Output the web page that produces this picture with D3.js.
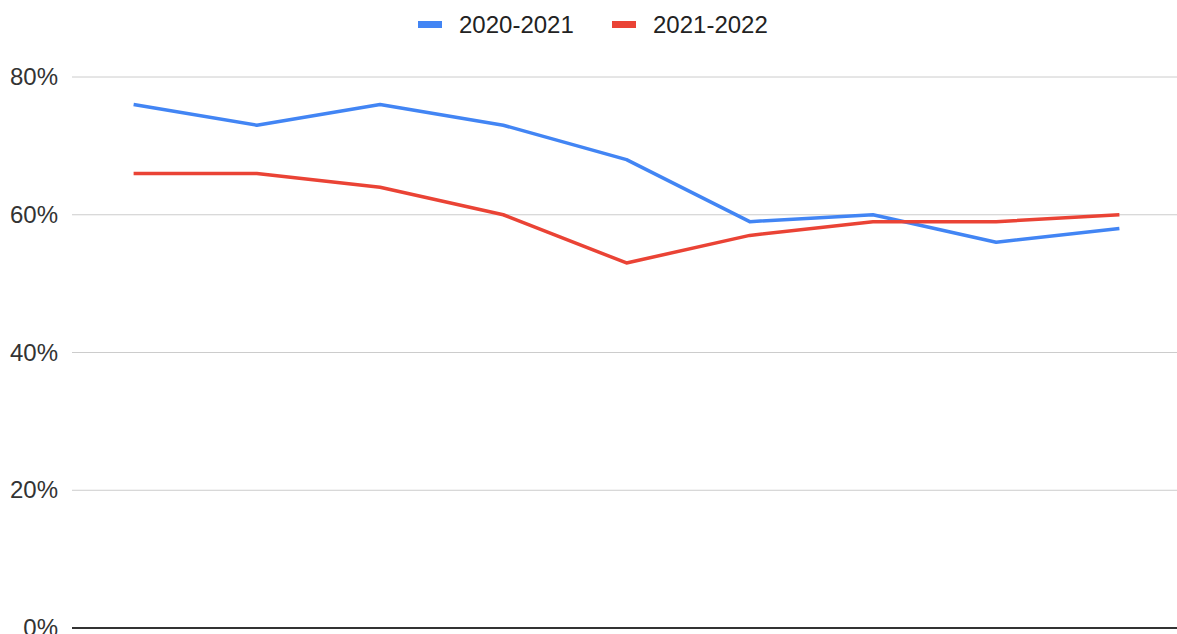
<!DOCTYPE html>
<html>
<head>
<meta charset="utf-8">
<script src="https://cdn.jsdelivr.net/npm/d3@7"></script>
<style>
  body { margin: 0; background: #fff; }
  svg { display: block; font-family: "Liberation Sans", Arial, sans-serif; }
</style>
</head>
<body>
<div id="chart"></div>
<script>
var categories = ["1", "2", "3", "4", "5", "6", "7", "8", "9"]
var series2020 = [76, 73, 76, 73, 68, 59, 60, 56, 58]
var series2021 = [66, 66, 64, 60, 53, 57, 59, 59, 60]
var yTicks = [0, 20, 40, 60, 80]
var seriesNames = ["2020-2021", "2021-2022"]
var seriesColors = ["#4285F4", "#EA4335"]

var width = 1177, height = 634

var svg = d3.select("#chart")
    .append("svg")
    .attr("width", width)
    .attr("height", height)

var x = d3.scalePoint()
    .domain(categories)
    .range([72, 1181])
    .padding(0.5)

var y = d3.scaleLinear()
    .domain([0, 80])
    .range([628, 77])

// gridlines
svg.append("g").selectAll("line")
    .data(yTicks.filter(function (d) { return d > 0 }))
    .enter()
    .append("line")
    .attr("x1", 72)
    .attr("x2", width)
    .attr("y1", function (d) { return y(d) })
    .attr("y2", function (d) { return y(d) })
    .style("stroke", "#cccccc")
    .style("stroke-width", 1)

// y axis labels
var yAxis = d3.axisLeft(y)
    .tickValues(yTicks)
    .tickSize(0)
    .tickPadding(0)
    .tickFormat(function (d) { return d + "%" })

var yAxisG = svg.append("g")
    .attr("transform", "translate(58,0)")
    .call(yAxis)
yAxisG.select(".domain").remove()
yAxisG.selectAll("text")
    .style("font-size", "24px")
    .style("fill", "#333")
    .style("font-family", "'Liberation Sans', Arial, sans-serif")

// lines
var line = d3.line()
    .x(function (d, i) { return x(categories[i]) })
    .y(function (d) { return y(d) })

var allSeries = [series2020, series2021]
svg.append("g").selectAll("path")
    .data(allSeries)
    .enter()
    .append("path")
    .attr("d", function (d) { return line(d) })
    .style("fill", "none")
    .style("stroke", function (d, i) { return seriesColors[i] })
    .style("stroke-width", 3.5)
    .style("stroke-linejoin", "round")

// baseline
svg.append("line")
    .attr("x1", 72)
    .attr("x2", width)
    .attr("y1", y(0))
    .attr("y2", y(0))
    .style("stroke", "#333")
    .style("stroke-width", 2)

// legend
var legendX = [418, 612]
var legend = svg.append("g").selectAll("g")
    .data(seriesNames)
    .enter()
    .append("g")
    .attr("transform", function (d, i) { return "translate(" + legendX[i] + ",24)" })

legend.append("rect")
    .attr("x", 0)
    .attr("y", -3)
    .attr("width", 24)
    .attr("height", 7)
    .style("fill", function (d, i) { return seriesColors[i] })

legend.append("text")
    .attr("x", 41)
    .attr("y", 9)
    .text(function (d) { return d })
    .style("font-size", "24px")
    .style("fill", "#222")
</script>
</body>
</html>
